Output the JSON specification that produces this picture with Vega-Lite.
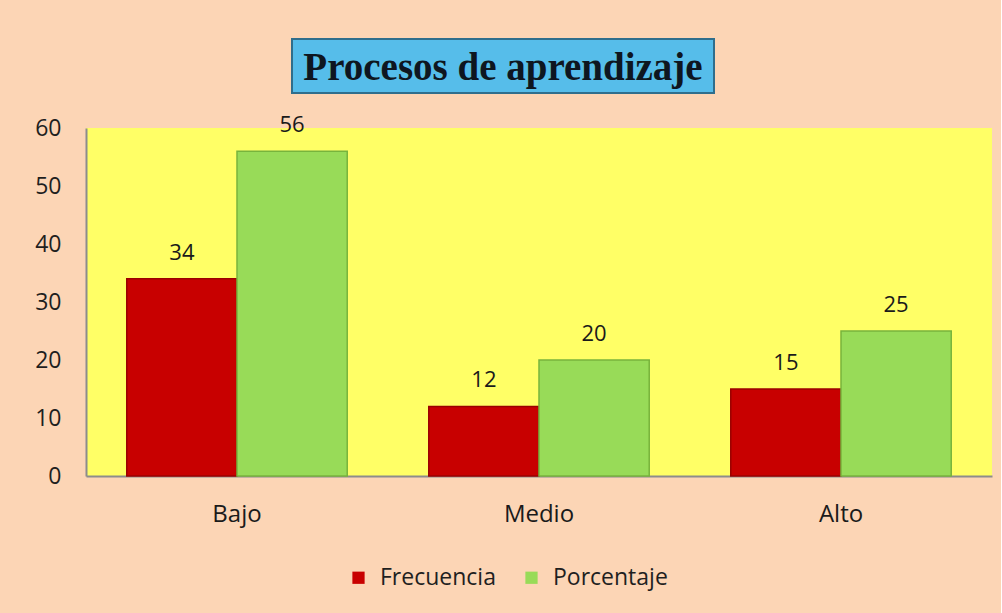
{
  "$schema": "https://vega.github.io/schema/vega-lite/v6.json",
  "background": "#FCD5B5",
  "padding": {"left": 34, "top": 38, "right": 9, "bottom": 86},
  "autosize": {"type": "pad"},
  "config": {
    "font": "Open Sans",
    "view": {"stroke": null}
  },
  "bounds": "flush",
  "spacing": 89,
  "datasets": {
    "titulo": [{"t": "Procesos de aprendizaje"}],
    "main": [
      {"nivel": "Bajo", "serie": "Frecuencia", "valor": 34},
      {"nivel": "Bajo", "serie": "Porcentaje", "valor": 56},
      {"nivel": "Medio", "serie": "Frecuencia", "valor": 12},
      {"nivel": "Medio", "serie": "Porcentaje", "valor": 20},
      {"nivel": "Alto", "serie": "Frecuencia", "valor": 15},
      {"nivel": "Alto", "serie": "Porcentaje", "valor": 25}
    ]
  },
  "vconcat": [
    {
      "bounds": "flush",
      "spacing": 10,
      "hconcat": [
        {
          "width": 196,
          "height": 54,
          "data": {"name": "titulo"},
          "mark": {"type": "text", "opacity": 0},
          "encoding": {}
        },
        {
          "width": 422,
          "height": 54,
          "view": {"fill": "#56BDEA", "stroke": "#2F6E8C", "strokeWidth": 2},
          "data": {"name": "titulo"},
          "mark": {"type": "text", "font": "Liberation Serif", "fontWeight": "bold", "fontSize": 39, "color": "#0E1620", "dy": 2},
          "encoding": {"text": {"field": "t", "type": "nominal"}}
        }
      ]
    },
    {
      "width": 906,
      "height": 348,
      "view": {"fill": "#FFFF66"},
      "data": {"name": "main"},
      "encoding": {
        "x": {
          "field": "nivel", "type": "nominal", "sort": ["Bajo", "Medio", "Alto"],
          "scale": {"paddingInner": 0.27, "paddingOuter": 0.135},
          "axis": {"title": null, "labelAngle": 0, "ticks": false, "domainColor": "#8C8C8C", "domainWidth": 2, "labelFontSize": 24, "labelColor": "#1A1A1A", "labelPadding": 26}
        },
        "xOffset": {"field": "serie", "type": "nominal", "sort": ["Frecuencia", "Porcentaje"], "scale": {"paddingInner": 0, "paddingOuter": 0}},
        "y": {
          "field": "valor", "type": "quantitative",
          "scale": {"domain": [0, 60], "nice": false},
          "axis": {"title": null, "grid": false, "ticks": false, "tickCount": 7, "domainColor": "#8C8C8C", "domainWidth": 2, "labelFontSize": 23, "labelColor": "#1F1F1F", "labelPadding": 25}
        }
      },
      "layer": [
        {
          "mark": {"type": "bar", "strokeWidth": 1.5},
          "encoding": {
            "color": {
              "field": "serie", "type": "nominal",
              "scale": {"domain": ["Frecuencia", "Porcentaje"], "range": ["#C80000", "#98DB58"]},
              "legend": {"title": null, "orient": "none", "direction": "horizontal", "legendX": 261, "legendY": 527, "symbolType": "square", "symbolSize": 150, "symbolStrokeWidth": 0, "labelFontSize": 23, "labelColor": "#1F1F1F", "labelOffset": 10, "columnPadding": 24}
            },
            "stroke": {
              "field": "serie", "type": "nominal",
              "scale": {"domain": ["Frecuencia", "Porcentaje"], "range": ["#9A0000", "#78B43C"]},
              "legend": null
            }
          }
        },
        {
          "mark": {"type": "text", "baseline": "alphabetic", "dy": -19, "fontSize": 22, "color": "#1A1A1A"},
          "encoding": {"text": {"field": "valor", "type": "quantitative"}}
        }
      ]
    }
  ]
}
